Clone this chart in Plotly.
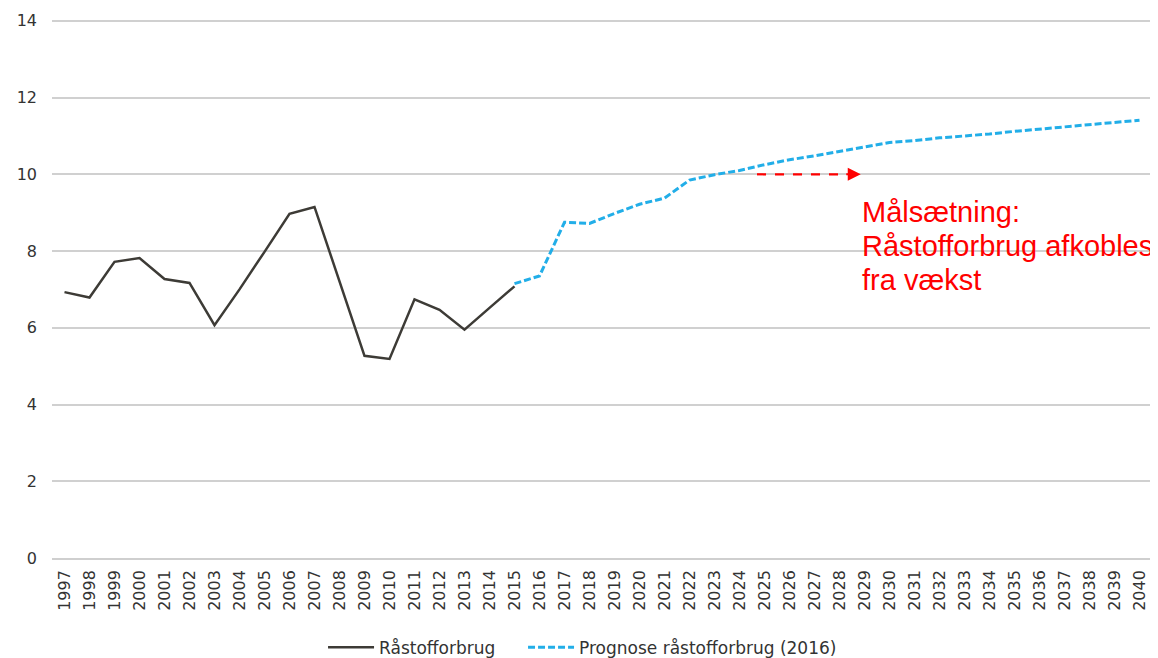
import plotly.graph_objects as go

years_hist = list(range(1997, 2016))
values_hist = [6.93, 6.79, 7.72, 7.82, 7.27, 7.17, 6.07, 7.0, 7.98, 8.97, 9.15,
               7.2, 5.27, 5.19, 6.74, 6.47, 5.95, 6.52, 7.08]

years_prog = list(range(2015, 2041))
values_prog = [7.15, 7.35, 8.75, 8.72, 8.98, 9.22, 9.38, 9.85, 9.99, 10.1,
               10.25, 10.38, 10.48, 10.59, 10.71, 10.83, 10.88, 10.95, 11.0,
               11.05, 11.12, 11.18, 11.24, 11.3, 11.35, 11.41]

tick_years = list(range(1997, 2041))
tick_labels = [str(y) for y in tick_years]
y_ticks = [0, 2, 4, 6, 8, 10, 12, 14]

target_y = 10
arrow_x0, arrow_x1 = 2024.7, 2028.85
note_lines = ["Målsætning:", "Råstofforbrug afkobles", "fra vækst"]
note_x = 2028.8
note_y = [9.02, 8.12, 7.25]

FONT = "DejaVu Sans"

fig = go.Figure()
fig.add_trace(go.Scatter(
    x=years_hist, y=values_hist, mode="lines", name="Råstofforbrug",
    line=dict(color="#3d3b36", width=2.5), legendwidth=139))
fig.add_trace(go.Scatter(
    x=years_prog, y=values_prog, mode="lines", name="Prognose råstofforbrug (2016)",
    line=dict(color="#22aee8", width=3, dash="7px,3px")))

# dashed red target arrow
fig.add_trace(go.Scatter(
    x=[arrow_x0, arrow_x1 - 0.55], y=[target_y, target_y], mode="lines",
    line=dict(color="#ff0000", width=2.2, dash="dash"),
    showlegend=False, hoverinfo="skip"))
fig.add_annotation(x=arrow_x1, y=target_y, ax=-16, ay=0, xref="x", yref="y",
                   showarrow=True, arrowhead=2, arrowsize=1.3, arrowwidth=2,
                   arrowcolor="#ff0000", text="")

for line, yy in zip(note_lines, note_y):
    fig.add_annotation(x=note_x, y=yy, xref="x", yref="y", text=line,
                       showarrow=False, xanchor="left", yanchor="middle",
                       font=dict(family="Liberation Sans, Arial", size=29, color="#ff0000"))

# the page body adds an 8px offset, so the figure is 8px smaller than the window
fig.update_layout(
    width=1150, height=650,
    margin=dict(l=44, r=6, t=9, b=100),
    paper_bgcolor="white", plot_bgcolor="white",
    font=dict(family=FONT, size=16, color="#333333"),
    showlegend=True,
    legend=dict(orientation="h", x=0.2464, xanchor="left",
                yref="container", y=0.016, yanchor="middle",
                font=dict(family=FONT, size=17, color="#333333"),
                itemwidth=46, tracegroupgap=0),
    xaxis=dict(range=[1996.5, 2040.5], tickmode="array", tickvals=tick_years,
               ticktext=tick_labels, tickangle=-90, showgrid=False,
               showline=True, linecolor="#cfcfcf", linewidth=1.5,
               ticks="", ticklabelstandoff=4, automargin=False,
               tickfont=dict(family=FONT, size=16, color="#333333"),
               zeroline=False),
    yaxis=dict(range=[0, 14.1], tickmode="array", tickvals=y_ticks,
               showgrid=True, gridcolor="#d0d0d0", gridwidth=1.5,
               zeroline=False, showline=False, ticks="",
               ticklabelstandoff=14, automargin=False,
               tickfont=dict(family=FONT, size=16, color="#333333")),
)

fig.write_html("out.html")
